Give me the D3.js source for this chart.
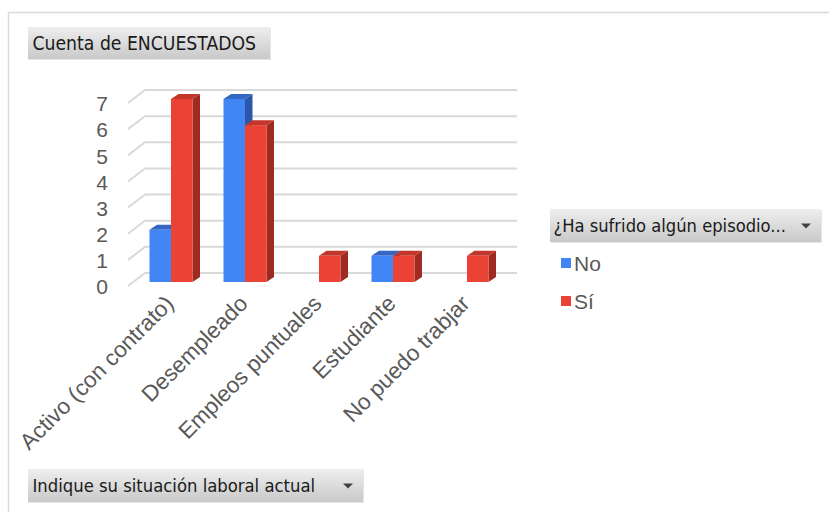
<!DOCTYPE html>
<html>
<head>
<meta charset="utf-8">
<script src="https://cdn.jsdelivr.net/npm/d3@7"></script>
<style>
  html, body { margin: 0; padding: 0; background: #ffffff; }
  svg { display: block; }
</style>
</head>
<body>
<svg id="chart" width="829" height="512"></svg>
<script>
// Survey counts by employment situation, split by answer
const categories = ["Activo (con contrato)", "Desempleado", "Empleos puntuales", "Estudiante", "No puedo trabajar"];
const categoryLabels = ["Activo (con contrato)", "Desempleado", "Empleos puntuales", "Estudiante", "No puedo trabjar"];
const seriesNames = ["No", "Sí"];
const valuesNo = [2, 7, 0, 1, 0];
const valuesSi = [7, 6, 1, 1, 1];
const yTicks = [0, 1, 2, 3, 4, 5, 6, 7];

const seriesValues = [valuesNo, valuesSi];
const frontColor = ["#4285f4", "#ea4335"];
const topColor = ["#3466c4", "#c3362b"];
const sideColor = ["#2c56a8", "#9e2a21"];

const svg = d3.select("#chart");
const defs = svg.append("defs");
const grad = defs.append("linearGradient").attr("id", "btn").attr("x1", 0).attr("y1", 0).attr("x2", 0).attr("y2", 1);
grad.append("stop").attr("offset", "0%").attr("stop-color", "#eeeeee");
grad.append("stop").attr("offset", "100%").attr("stop-color", "#c9c9c9");

// chart frame
svg.append("rect").attr("x", 8.5).attr("y", 12.5).attr("width", 840).attr("height", 520)
  .attr("fill", "#ffffff").attr("stroke", "#d9d9d9").attr("stroke-width", 1.5);

// scales: front plane of the bars
const x = d3.scaleBand().domain(categories).range([134, 504]);
const xs = d3.scaleBand().domain(seriesNames).range([15.5, 58.5]);
const y = d3.scaleLinear().domain([0, 7]).range([282, 99]);

// depth offsets
const wallDx = 17, wallDy = 13;    // floor front edge to back wall
const backShift = 9;               // back wall sits above the bar fronts
const barDx = 7.5, barDy = 5;      // bar thickness

// gridlines on floor-wall
const grid = svg.append("g");
yTicks.forEach(t => {
  const yb = y(t) - backShift;
  grid.append("path")
    .attr("d", `M${128},${yb + wallDy} L${128 + wallDx},${yb} L517,${yb}`)
    .attr("fill", "none").attr("stroke", "#d9d9d9").attr("stroke-width", 2);
});

// y labels
const yl = svg.append("g").attr("font-family", "'Liberation Sans', Arial, sans-serif")
  .attr("font-size", 21).attr("fill", "#595959").attr("text-anchor", "end");
yTicks.forEach(t => {
  yl.append("text").attr("x", 108).attr("y", y(t) - backShift + wallDy + 1)
    .attr("dy", "0.35em").text(t);
});

// bars
const bars = svg.append("g");
categories.forEach((c, ci) => {
  seriesNames.forEach((s, si) => {
    const v = seriesValues[si][ci];
    if (!v) return;
    const x0 = x(c) + xs(s), w = xs.bandwidth();
    const yt = y(v), y0 = y(0);
    bars.append("polygon")
      .attr("points", [[x0 + w, yt], [x0 + w + barDx, yt - barDy], [x0 + w + barDx, y0 - barDy], [x0 + w, y0]].join(" "))
      .attr("fill", sideColor[si]);
    bars.append("polygon")
      .attr("points", [[x0, yt], [x0 + barDx, yt - barDy], [x0 + w + barDx, yt - barDy], [x0 + w, yt]].join(" "))
      .attr("fill", topColor[si]);
    bars.append("rect").attr("x", x0).attr("y", yt).attr("width", w).attr("height", y0 - yt)
      .attr("fill", frontColor[si]);
  });
});

// category labels
const xl = svg.append("g").attr("font-family", "'Liberation Sans', Arial, sans-serif")
  .attr("font-size", 22.5).attr("fill", "#595959").attr("text-anchor", "end");
categories.forEach((c, ci) => {
  const px = x(c) + x.bandwidth() / 2 + 4, py = 305;
  xl.append("text").attr("transform", `translate(${px},${py}) rotate(-45)`).text(categoryLabels[ci]);
});

// field buttons
function button(bx, by, bw, bh, label, size, pad, arrow) {
  const g = svg.append("g");
  g.append("rect").attr("x", bx + 1).attr("y", by + 1).attr("width", bw).attr("height", bh).attr("fill", "#e6e6e6");
  g.append("rect").attr("x", bx).attr("y", by).attr("width", bw).attr("height", bh).attr("fill", "url(#btn)");
  g.append("text").attr("x", bx + pad).attr("y", by + bh / 2 + 6.5)
    .attr("font-family", "'DejaVu Sans Condensed', 'DejaVu Sans', sans-serif")
    .attr("font-size", size).attr("fill", "#1a1a1a").text(label);
  if (arrow) {
    const ax = bx + bw - 15, ay = by + bh / 2 - 2;
    g.append("path").attr("d", `M${ax - 5},${ay} L${ax + 5},${ay} L${ax},${ay + 5} Z`).attr("fill", "#404040");
  }
}
button(28, 27, 242, 32, "Cuenta de ENCUESTADOS", 19.2, 4.5, false);
button(550, 209, 271, 33, "¿Ha sufrido algún episodio...", 18.2, 3.5, true);
button(28, 469, 335, 33, "Indique su situación laboral actual", 18.3, 4.5, true);

// legend
const lg = svg.append("g").attr("font-family", "'Liberation Sans', Arial, sans-serif")
  .attr("font-size", 21).attr("fill", "#595959");
seriesNames.forEach((s, si) => {
  const ly = 263 + si * 38;
  lg.append("rect").attr("x", 561).attr("y", ly - 5).attr("width", 10).attr("height", 10).attr("fill", frontColor[si]);
  lg.append("text").attr("x", 574).attr("y", ly).attr("dy", "0.36em").text(s);
});
</script>
</body>
</html>
